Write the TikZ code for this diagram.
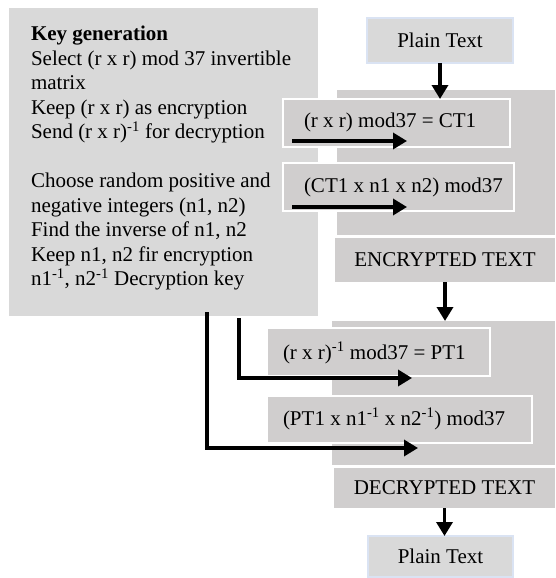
\documentclass[tikz,border=0pt]{standalone}
\usepackage{fontspec}
\setmainfont{Liberation Serif}
\usepackage{xcolor}
\usetikzlibrary{arrows.meta}
\definecolor{keygray}{HTML}{D9D9D9}
\definecolor{panelgray}{HTML}{D0CECE}
\definecolor{plainedge}{HTML}{DAE3F3}

\begin{document}
\begin{tikzpicture}[x=1pt, y=-1pt, >={Triangle[width=16pt,length=14pt]}, line width=3.4pt,
        font=\fontsize{21}{24.5}\selectfont,
        every node/.style={inner sep=0pt, outer sep=0pt},
        panel/.style={fill=panelgray, anchor=north west},
        calcbox/.style={fill=panelgray, draw=white, line width=2pt, anchor=north west},
        plainbox/.style={fill=keygray, draw=plainedge, line width=1.5pt, anchor=north west},
        calctext/.style={anchor=west}]
            \useasboundingbox (0,0) rectangle (556,578);

            % key generation block
            \node[fill=keygray, anchor=north west, minimum width=309pt, minimum height=308pt] (key) at (9,8) {};
            \node[anchor=north west, align=left] (keytext) at (31,26) {\textbf{Key generation}\\
                Select (r x r) mod 37 invertible\\ matrix\\ Keep (r x r) as encryption\\
                Send (r x r)\textsuperscript{-1} for decryption\\[24.5pt]
                Choose random positive and\\ negative integers (n1, n2)\\ Find the inverse of n1, n2\\
                Keep n1, n2 fir encryption\\ n1\textsuperscript{-1}, n2\textsuperscript{-1} Decryption key};

            \node[plainbox, minimum width=146pt, minimum height=45pt] (plainin) at (367,18) {Plain Text};

            % encryption
            \node[panel, minimum width=218pt, minimum height=145pt] (encpanel) at (337,90) {};
            \node[calcbox, minimum width=227pt, minimum height=48pt] (ctone) at (283,99) {};
            \node[calctext] (ctonetext) at (304,122) {(r x r) mod37 = CT1};
            \node[calcbox, minimum width=231pt, minimum height=48pt] (ctmix) at (283,163) {};
            \node[calctext] (ctmixtext) at (304,187) {(CT1 x n1 x n2) mod37};
            \node[panel, minimum width=220pt, minimum height=44pt] (enc) at (335,238) {ENCRYPTED TEXT};

            % decryption
            \node[panel, minimum width=223pt, minimum height=144pt] (decpanel) at (332,321) {};
            \node[calcbox, minimum width=223pt, minimum height=48pt] (ptone) at (267,328) {};
            \node[calctext] (ptonetext) at (283,353) {(r x r)\textsuperscript{-1} mod37 = PT1};
            \node[calcbox, minimum width=265pt, minimum height=47pt] (ptmix) at (267,396) {};
            \node[calctext] (ptmixtext) at (283,419) {(PT1 x n1\textsuperscript{-1} x n2\textsuperscript{-1}) mod37};
            \node[panel, minimum width=221pt, minimum height=40pt] (dec) at (334,468) {DECRYPTED TEXT};

            \node[plainbox, minimum width=145pt, minimum height=41pt] (plainout) at (368,536) {Plain Text};

            % arrows inside the boxes
            \coordinate (ctonestart) at (292,141);
            \coordinate (ctoneend) at (407,141);
            \coordinate (ctmixstart) at (292,207);
            \coordinate (ctmixend) at (407,207);
            \coordinate (keyinv) at (239,318);
            \coordinate (ptoneend) at (412,378);
            \coordinate (keyn) at (207,312);
            \coordinate (ptmixend) at (418,448);

            \draw[->] (plainin.south) -- (plainin.south |- ctone.north);
            \draw[->] (ctonestart) -- (ctoneend);
            \draw[->] (ctmixstart) -- (ctmixend);
            \draw[->] (enc.south) -- (enc.south |- decpanel.north);
            \draw[->] (keyinv) |- (ptoneend);
            \draw[->] (keyn) |- (ptmixend);
            \draw[->] (dec.south) -- (dec.south |- plainout.north);
        \end{tikzpicture}
\end{document}
